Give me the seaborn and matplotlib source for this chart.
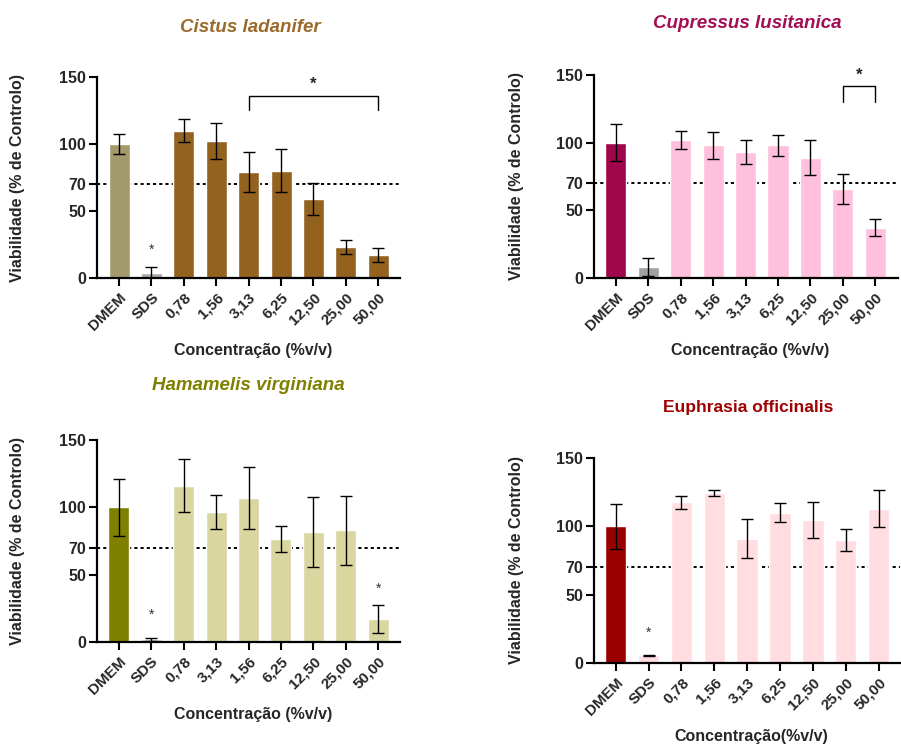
import numpy as np
import pandas as pd
import matplotlib
matplotlib.use("Agg")
import matplotlib.pyplot as plt
import seaborn as sns

# --- Data ---
cats_std = ["DMEM", "SDS", "0,78", "1,56", "3,13", "6,25", "12,50", "25,00", "50,00"]
cats_ham = ["DMEM", "SDS", "0,78", "3,13", "1,56", "6,25", "12,50", "25,00", "50,00"]

cistus_mean = [100, 4, 110, 102, 79, 80, 59, 23, 17]
cistus_sd = [7.5, 4.5, 8.7, 13.5, 15, 16, 12, 5, 5.3]

cupressus_mean = [100, 8, 102, 98, 93, 98, 89, 66, 37]
cupressus_sd = [13.5, 6.5, 6.7, 10, 9, 8, 13, 11, 6.3]

hamamelis_mean = [100, 2, 116, 96.5, 107, 76.5, 82, 83, 17]
hamamelis_sd = [21, 1, 19.7, 12.7, 23, 10, 26, 25.7, 10.5]

euphrasia_mean = [100, 5.5, 117.5, 124.5, 91, 110, 104.8, 90, 113]
euphrasia_sd = [16.5, 0.3, 5, 2.3, 14.4, 7, 13, 8.3, 13.3]

sns.set_style("white")
plt.rcParams['font.family'] = ['Liberation Sans', 'DejaVu Sans']
plt.rcParams['font.weight'] = 'bold'

fig = plt.figure(figsize=(9.01, 7.45), dpi=100)
W, H = 901, 745


def add_ax(x0, x1, ytop, ybot):
    return fig.add_axes([x0 / W, 1 - ybot / H, (x1 - x0) / W, (ybot - ytop) / H])


def panel(ax, cats, mean, sd, colors, title, title_color, title_style, title_size,
          title_xy, xlabel, xlabel_y, ylabel_x, xlim):
    df = pd.DataFrame({"cat": cats, "val": mean})
    sns.barplot(data=df, x="cat", y="val", hue="cat", palette=colors, legend=False,
                width=0.65, saturation=1, ax=ax, zorder=2)
    ax.errorbar(np.arange(len(cats)), mean, yerr=sd, fmt="none", ecolor="black",
                elinewidth=1.0, capsize=4.3, capthick=1.0, zorder=3)
    ax.axhline(70, color="black", lw=1.4, ls=(0, (1.6, 1.6)), zorder=1)
    ax.set_ylim(0, 150)
    ax.set_xlim(*xlim)
    ax.set_yticks([0, 50, 70, 100, 150])
    ax.set_xticks(np.arange(len(cats)))
    ax.set_xticklabels(cats, rotation=45, ha="right", rotation_mode="anchor",
                       fontsize=11, fontweight="bold")
    for lab in ax.get_yticklabels():
        lab.set_fontsize(11.5)
        lab.set_fontweight("bold")
    ax.tick_params(axis="both", direction="out", length=6, width=1.5, color="black",
                   pad=2, bottom=True, left=True)
    ax.tick_params(axis="x", pad=3)
    for s in ["top", "right"]:
        ax.spines[s].set_visible(False)
    for s in ["left", "bottom"]:
        ax.spines[s].set_linewidth(1.6)
        ax.spines[s].set_color("black")
    ax.set_xlabel("")
    ax.set_ylabel("")
    pos = ax.get_position()
    fig.text(ylabel_x / W, (pos.y0 + pos.y1) / 2, "Viabilidade (% de Controlo)",
             rotation=90, ha="center", va="center", fontsize=11.5, fontweight="bold")
    fig.text(title_xy[0] / W, 1 - title_xy[1] / H, title, ha="center", va="center",
             fontsize=title_size, fontweight="bold", style=title_style, color=title_color)
    fig.text((pos.x0 + pos.x1) / 2 + 0.005, 1 - xlabel_y / H, xlabel, ha="center",
             va="center", fontsize=11.5, fontweight="bold")


# Panel 1: Cistus ladanifer
ax1 = add_ax(97, 400, 77, 278)
panel(ax1, cats_std, cistus_mean, cistus_sd,
      ["#a39a6b", "#a9a9ab", "#93621f", "#93621f", "#93621f", "#93621f", "#93621f",
       "#93621f", "#93621f"],
      "Cistus ladanifer", "#9a6a2a", "italic", 13.5, (250, 27),
      "Concentração (%v/v)", 350, 18, (-0.68, 8.67))
ax1.plot([4, 4, 8, 8], [125, 136, 136, 125], color="black", lw=1.0)
ax1.text(6, 139, "*", ha="center", va="bottom", fontsize=12, fontweight="bold")
ax1.text(1, 16, "*", ha="center", va="bottom", fontsize=10, color="#333333",
         fontweight="normal")

# Panel 2: Cupressus lusitanica
ax2 = add_ax(594, 898, 75, 278)
panel(ax2, cats_std, cupressus_mean, cupressus_sd,
      ["#a0064a", "#a0a0a2", "#ffc0dd", "#ffc0dd", "#ffc0dd", "#ffc0dd", "#ffc0dd",
       "#ffc0dd", "#ffc0dd"],
      "Cupressus lusitanica", "#a30d53", "italic", 13.5, (747, 23),
      "Concentração (%v/v)", 350, 517, (-0.67, 8.7))
ax2.plot([7, 7, 8, 8], [130, 142, 142, 130], color="black", lw=1.0)
ax2.text(7.5, 144, "*", ha="center", va="bottom", fontsize=12, fontweight="bold")

# Panel 3: Hamamelis virginiana
ax3 = add_ax(97, 400, 440, 642)
panel(ax3, cats_ham, hamamelis_mean, hamamelis_sd,
      ["#808000", "#c8c8c2", "#d9d6a0", "#d9d6a0", "#d9d6a0", "#d9d6a0", "#d9d6a0",
       "#d9d6a0", "#d9d6a0"],
      "Hamamelis virginiana", "#808000", "italic", 13.5, (248, 385),
      "Concentração (%v/v)", 715, 18, (-0.67, 8.67))
ax3.text(1, 15, "*", ha="center", va="bottom", fontsize=10, color="#333333",
         fontweight="normal")
ax3.text(8, 34, "*", ha="center", va="bottom", fontsize=10, color="#333333",
         fontweight="normal")

# Panel 4: Euphrasia officinalis
ax4 = add_ax(594, 900, 458, 663)
panel(ax4, cats_std, euphrasia_mean, euphrasia_sd,
      ["#990000", "#ffdde0", "#ffdde0", "#ffdde0", "#ffdde0", "#ffdde0", "#ffdde0",
       "#ffdde0", "#ffdde0"],
      "Euphrasia officinalis", "#a00000", "normal", 12.5, (748, 407),
      "Concentração(%v/v)", 737, 517, (-0.66, 8.65))
ax4.text(1, 17, "*", ha="center", va="bottom", fontsize=10, color="#333333",
         fontweight="normal")

fig.savefig("out.png", dpi=100)
